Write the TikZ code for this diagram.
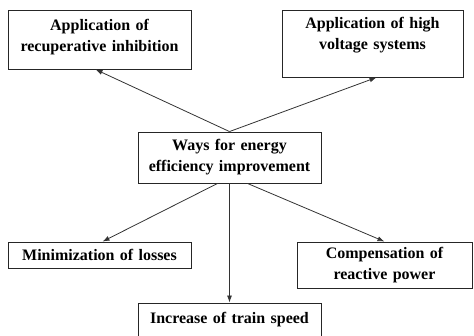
\documentclass[tikz,border=0pt]{standalone}
\usepackage{fontspec}
\setmainfont{Liberation Serif}
\usetikzlibrary{arrows.meta}
\begin{document}
\begin{tikzpicture}[x=1pt,y=-1pt,>={Latex[length=7pt,width=5pt]}]
		\tikzstyle{every node}=[font=\fontsize{16}{21}\selectfont\bfseries]
		\tikzstyle{box}=[draw=black!85,line width=0.9pt,inner sep=0pt,align=center]
		\tikzstyle{every edge}=[draw,color=black!80,line width=0.8pt]
		\useasboundingbox (0,0) rectangle (474,335);
		\node (rec) at (99.5,39.5) [box,text width=183pt,minimum height=59pt,text depth=29pt] {Application of\\recuperative inhibition};
		\node (hv) at (372.5,43.5) [box,text width=181pt,minimum height=67pt,text depth=41pt] {Application of high\\voltage systems};
		\node (ways) at (229.5,157.5) [box,text width=183pt,minimum height=51pt] {Ways for energy\\efficiency improvement};
		\node (loss) at (99.5,255) [box,text width=183pt,minimum height=26pt] {Minimization of losses};
		\node (comp) at (384.5,265) [box,text width=175pt,minimum height=46pt] {Compensation of\\reactive power};
		\node (speed) at (229.5,320) [box,text width=183pt,minimum height=34pt] {Increase of train speed};

		\path [->] (ways.north) edge ([xshift=-4pt]rec.south);
		\path [->] (ways.north) edge ([xshift=4pt]hv.south);
		\path [->] ([xshift=-12pt]ways.south) edge ([xshift=3pt]loss.north);
		\path [->] (ways.south) edge (speed.north);
		\path [->] ([xshift=18pt]ways.south) edge (comp.north);
	\end{tikzpicture}
\end{document}
